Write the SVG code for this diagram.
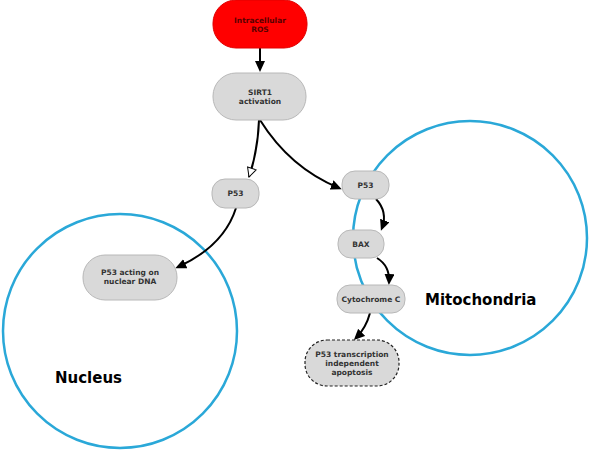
<svg xmlns="http://www.w3.org/2000/svg" width="590" height="451" viewBox="0 0 590 451">
<style>
.n{fill:#d9d9d9;stroke:#b8b8b8;stroke-width:1}
.t{font-family:"DejaVu Sans",sans-serif;font-weight:bold;font-size:7.5px;fill:#333;text-anchor:middle}
.r{fill:#5a0000}
.c{fill:none;stroke:#000;stroke-width:2}
.org{fill:none;stroke:#2aa8d8;stroke-width:2.5}
.lbl{font-family:"DejaVu Sans",sans-serif;font-weight:bold;font-size:15px;fill:#000}
</style>
<defs>
<marker id="a" markerWidth="11" markerHeight="10" refX="8" refY="5" orient="auto" markerUnits="userSpaceOnUse" viewBox="0 0 11 10"><path d="M0,0L11,5L0,10Z" fill="#000"/></marker>
<marker id="o" markerWidth="11" markerHeight="11" refX="10" refY="5.5" orient="auto" markerUnits="userSpaceOnUse" viewBox="0 0 11 11"><path d="M1,1L10,5.5L1,10Z" fill="#fff" stroke="#000" stroke-width="1"/></marker>
</defs>
<rect width="590" height="451" fill="#fff"/>
<g id="nucleus"><circle class="org" cx="120" cy="331" r="117"/><text class="lbl" x="55" y="383">Nucleus</text></g>
<g id="mitochondria"><circle class="org" cx="470" cy="238" r="117"/><text class="lbl" x="425" y="305">Mitochondria</text></g>
<g id="connectors">
<path class="c" d="M260,48L260,69" marker-end="url(#a)"/>
<path class="c" d="M259,120Q258,150 249,177" marker-end="url(#o)"/>
<path class="c" d="M260,120Q290,168 339,188" marker-end="url(#a)"/>
<path class="c" d="M236,208Q224,246 178,267" marker-end="url(#a)"/>
<path class="c" d="M376,199Q388,212 382,228" marker-end="url(#a)"/>
<path class="c" d="M377,258Q390,266 389,282" marker-end="url(#a)"/>
<path class="c" d="M370,313Q366,328 356,338" marker-end="url(#a)"/>
</g>
<g id="ros"><rect x="213" y="0" width="94" height="48" rx="23" fill="#ff0000" stroke="#e00000"/><text class="t r" x="260" y="23">Intracellular</text><text class="t r" x="260" y="32">ROS</text></g>
<g id="sirt1"><rect class="n" x="213" y="73" width="93" height="47" rx="23"/><text class="t" x="260" y="95">SIRT1</text><text class="t" x="260" y="104">activation</text></g>
<g id="p53n"><rect class="n" x="212" y="179" width="47" height="29" rx="13"/><text class="t" x="235.5" y="196">P53</text></g>
<g id="p53m"><rect class="n" x="342" y="171" width="47" height="28" rx="13"/><text class="t" x="365.5" y="188">P53</text></g>
<g id="bax"><rect class="n" x="338" y="230" width="46" height="28" rx="13"/><text class="t" x="361" y="247">BAX</text></g>
<g id="cyto"><rect class="n" x="337" y="285" width="68" height="28" rx="13"/><text class="t" x="371" y="302">Cytochrome C</text></g>
<g id="dna"><rect class="n" x="83" y="255" width="94" height="45" rx="22"/><text class="t" x="130" y="275">P53 acting on</text><text class="t" x="130" y="284">nuclear DNA</text></g>
<g id="apop"><rect x="305" y="340" width="94" height="46" rx="22" fill="#d9d9d9" stroke="#222" stroke-width="1.2" stroke-dasharray="3,2"/><text class="t" x="352" y="357">P53 transcription</text><text class="t" x="352" y="366">independent</text><text class="t" x="352" y="375">apoptosis</text></g>
</svg>
